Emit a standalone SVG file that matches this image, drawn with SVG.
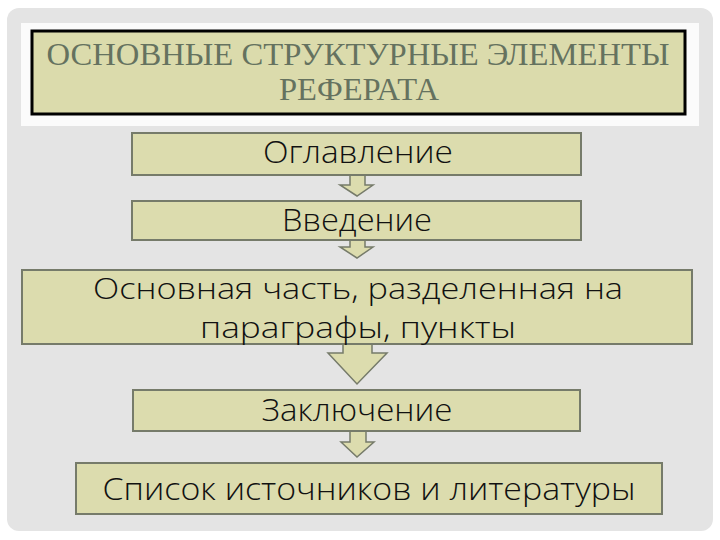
<svg xmlns="http://www.w3.org/2000/svg" width="720" height="540" viewBox="0 0 720 540">
  <defs>
    <style>
      .box { fill: #dcdcae; stroke: #767b6a; stroke-width: 2; }
      .arrow { fill: #dcdcae; stroke: #767b6a; stroke-width: 1.5; stroke-linejoin: miter; }
      .lbl { font-family: "Open Sans", "DejaVu Sans", sans-serif; font-weight: 300; font-size: 31px; fill: #111111; text-anchor: middle; }
      .lbl2 { font-size: 29px; }
      .title { font-family: "Liberation Serif", "DejaVu Serif", serif; font-size: 32px; fill: #65725f; text-anchor: middle; }
    </style>
  </defs>
  <rect x="0" y="0" width="720" height="540" fill="#ffffff"/>
  <rect x="7" y="8" width="706" height="523" rx="12" ry="12" fill="#e4e4e4"/>
  <rect x="21" y="23" width="678" height="103" fill="#fbfbfb"/>

  <g id="title">
    <rect x="32" y="31" width="653" height="83" fill="#dbdbac" stroke="#000000" stroke-width="3"/>
    <text class="title" x="358" y="65" textLength="623" lengthAdjust="spacingAndGlyphs">ОСНОВНЫЕ СТРУКТУРНЫЕ ЭЛЕМЕНТЫ</text>
    <text class="title" x="359" y="100" textLength="160" lengthAdjust="spacingAndGlyphs">РЕФЕРАТА</text>
  </g>

  <g id="connectors">
    <polygon class="arrow" points="350,175 365,175 365,185 373,185 357,196 340,185 350,185"/>
    <polygon class="arrow" points="350,240 365,240 365,247 373,247 357,258 340,247 350,247"/>
    <polygon class="arrow" points="343,344 372,344 372,353 387,353 357,384 328,353 343,353"/>
    <polygon class="arrow" points="350,431 366,431 366,442 374,442 357,457 341,442 350,442"/>
  </g>

  <g id="node-oglavlenie">
    <rect class="box" x="132" y="133" width="449" height="42"/>
    <text class="lbl" x="358" y="163" textLength="190" lengthAdjust="spacingAndGlyphs">Оглавление</text>
  </g>
  <g id="node-vvedenie">
    <rect class="box" x="132" y="201" width="449" height="39"/>
    <text class="lbl" x="357" y="231" textLength="150" lengthAdjust="spacingAndGlyphs">Введение</text>
  </g>
  <g id="node-osnovnaya">
    <rect class="box" x="22" y="270" width="670" height="74"/>
    <text class="lbl lbl2" x="358" y="299" textLength="530" lengthAdjust="spacingAndGlyphs">Основная часть, разделенная на</text>
    <text class="lbl lbl2" x="358" y="338" textLength="316" lengthAdjust="spacingAndGlyphs">параграфы, пункты</text>
  </g>
  <g id="node-zaklyuchenie">
    <rect class="box" x="133" y="390" width="447" height="41"/>
    <text class="lbl" x="357" y="421" textLength="191" lengthAdjust="spacingAndGlyphs">Заключение</text>
  </g>
  <g id="node-spisok">
    <rect class="box" x="76" y="463" width="586" height="51"/>
    <text class="lbl" x="369" y="500" textLength="533" lengthAdjust="spacingAndGlyphs">Список источников и литературы</text>
  </g>
</svg>
